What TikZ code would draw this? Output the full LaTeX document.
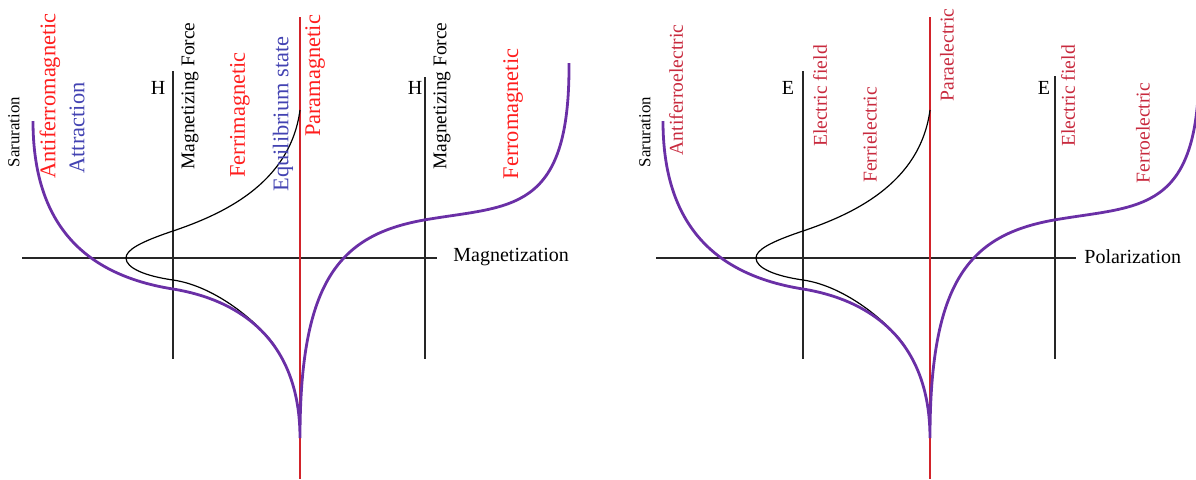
\documentclass[tikz,border=0pt]{standalone}
\usepackage{fontspec}
\setmainfont{Liberation Serif}
\usepackage{xcolor}
\usepackage{tikz}
\definecolor{magred}{HTML}{FF1E1E}
\definecolor{elred}{HTML}{C82A3E}
\definecolor{eqblue}{HTML}{4343B2}
\definecolor{loopviolet}{HTML}{6A2FA6}
\definecolor{axisred}{HTML}{D2232A}
\tikzset{
  axisline/.style={line width=0.8pt,black!85},
  paraline/.style={line width=1.3pt,axisred},
  mcurve/.style={line width=1.4pt,loopviolet},
  ecurve/.style={line width=0.6pt,black},
  vlabel/.style={rotate=90,inner sep=0pt},
  biglabel/.style={vlabel,font=\fontsize{11.2}{13}\selectfont},
  elabel/.style={vlabel,font=\fontsize{9.8}{11}\selectfont,text=elred},
}
\begin{document}
\begin{tikzpicture}
[x=0.5pt,y=-0.5pt]
\useasboundingbox (0,0) rectangle (1196,479);
% Magnetization panel

\draw[axisline] (22,258) -- (437,258);
\draw[axisline] (173,71) -- (173,359);
\draw[axisline] (425,77) -- (425,359);
\draw[paraline] (300,17) -- (300,479);

\draw[ecurve] (300,110) .. controls (290,185) and (220,215) .. (173,231)
   .. controls (140,242) and (126,250) .. (126,258)
   .. controls (126,268) and (145,276) .. (173,280)
   .. controls (215,286) and (258,322) .. (275,346);
\draw[mcurve] (33,121) .. controls (33,225) and (85,275) .. (173,289)
   .. controls (240,300) and (300,340) .. (300,438)
   .. controls (300,280) and (340,235) .. (424,220)
   .. controls (510,205) and (570,215) .. (569,63);

\node[vlabel,font=\fontsize{8.4}{10}\selectfont] (SatM) at (14,132) {Saruration};
\node[biglabel,text=magred] (AFM) at (50,96) {Antiferromagnetic};
\node[biglabel,text=eqblue] (Attr) at (77,128) {Attraction};
\node[font=\fontsize{10}{12}\selectfont] (H1) at (158,88) {H};
\node[vlabel,font=\fontsize{9.7}{11}\selectfont] (MF1) at (190,96) {Magnetizing Force};
\node[biglabel,text=magred] (FiM) at (240,115) {Ferrimagnetic};
\node[biglabel,text=eqblue] (Eq) at (283,114) {Equilibrium state};
\node[biglabel,text=magred] (PM) at (315,76) {Paramagnetic};
\node[font=\fontsize{10}{12}\selectfont] (H2) at (415,88) {H};
\node[vlabel,font=\fontsize{9.7}{11}\selectfont] (MF2) at (442,96) {Magnetizing Force};
\node[biglabel,text=magred] (FM) at (513,114) {Ferromagnetic};
\node[anchor=west,inner sep=0pt,font=\fontsize{10}{12}\selectfont] (Mag) at (453,257) {Magnetization};

% Polarization panel

\draw[axisline] (656,258) -- (1076,258);
\draw[axisline] (803,71) -- (803,359);
\draw[axisline] (1055,76) -- (1055,359);
\draw[paraline] (930,17) -- (930,479);

\draw[ecurve] (930,110) .. controls (920,185) and (850,215) .. (803,231)
   .. controls (770,242) and (756,250) .. (756,258)
   .. controls (756,268) and (775,276) .. (803,280)
   .. controls (845,286) and (888,322) .. (905,346);
\draw[mcurve] (663,121) .. controls (663,225) and (715,275) .. (803,289)
   .. controls (870,300) and (930,340) .. (930,438)
   .. controls (930,280) and (970,235) .. (1054,220)
   .. controls (1140,205) and (1200,215) .. (1199,63);

\node[vlabel,font=\fontsize{8.4}{10}\selectfont] (SatP) at (645,132) {Saruration};
\node[elabel] (AFE) at (676,90) {Antiferroelectric};
\node[font=\fontsize{10}{12}\selectfont] (E1) at (788,88) {E};
\node[elabel] (EF1) at (820,96) {Electric field};
\node[elabel] (FiE) at (870,135) {Ferrielectric};
\node[elabel] (PE) at (947,55) {Paraelectric};
\node[font=\fontsize{10}{12}\selectfont] (E2) at (1044,88) {E};
\node[elabel] (EF2) at (1068,96) {Electric field};
\node[elabel] (FE) at (1143,133) {Ferroelectric};
\node[anchor=west,inner sep=0pt,font=\fontsize{10}{12}\selectfont] (Pol) at (1084,257) {Polarization};
\end{tikzpicture}
\end{document}
